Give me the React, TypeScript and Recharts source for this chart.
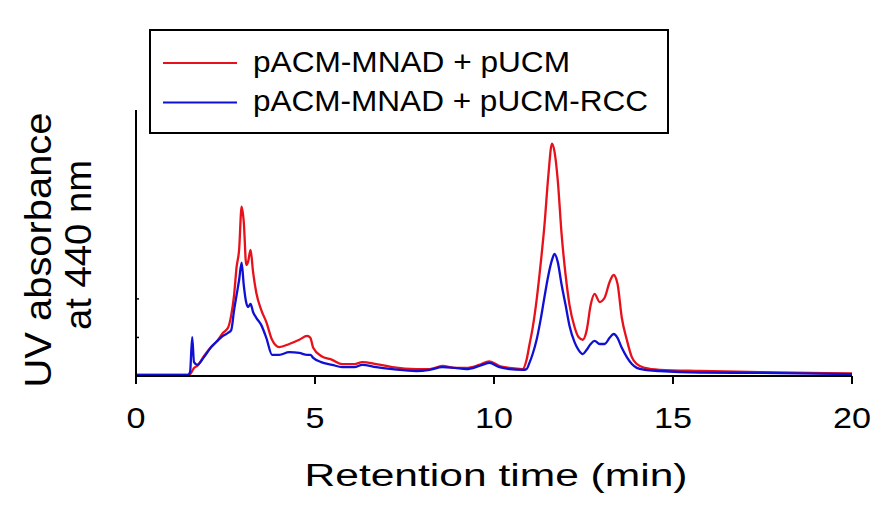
import { LineChart, Line, XAxis, YAxis } from 'recharts';

// retention time (min)
const times = [
  0, 1.45, 1.51, 1.57, 1.62, 1.71, 1.9, 2.1, 2.27, 2.43, 2.57, 2.66, 2.74, 2.81, 2.88, 2.95, 3.01, 3.08, 3.13, 3.2,
  3.27, 3.36, 3.5, 3.64, 3.8, 4.0, 4.28, 4.56, 4.78, 4.87, 4.95, 5.17, 5.48, 5.76, 6.1, 6.32, 6.71, 7.16, 7.83, 8.2,
  8.56, 8.9, 9.23, 9.59, 9.87, 10.15, 10.43, 10.8, 10.91, 10.99, 11.08, 11.19, 11.3, 11.41, 11.52, 11.62, 11.69, 11.78, 11.89, 12.0,
  12.11, 12.25, 12.36, 12.48, 12.59, 12.7, 12.81, 12.95, 13.09, 13.23, 13.34, 13.45, 13.57, 13.71, 13.85, 13.99, 14.21, 14.63, 15.75, 17.43,
  20,
];

// pACM-MNAD + pUCM
const ucm = [
  0.3, 0.3, 0.5, 1.3, 2.1, 2.6, 5.2, 7.5, 9.1, 11.2, 12.5, 15.8, 21.0, 28.3, 32.7, 43.9, 40.0, 28.8, 29.6, 32.7,
  27.0, 21.6, 17.1, 14.0, 9.4, 7.5, 8.3, 9.4, 10.4, 9.9, 7.3, 5.2, 4.2, 3.1, 3.1, 3.6, 3.1, 2.3, 1.8, 1.8,
  2.6, 2.1, 2.1, 2.9, 3.8, 2.6, 2.1, 1.8, 4.2, 8.1, 12.5, 19.7, 28.8, 39.2, 52.2, 60.3, 58.2, 50.9, 36.6, 26.2,
  18.4, 12.7, 10.1, 9.4, 11.9, 18.4, 21.3, 19.2, 20.3, 24.4, 26.2, 23.9, 15.1, 9.4, 4.9, 3.1, 2.1, 1.6, 1.3, 1.0,
  0.65,
];

// pACM-MNAD + pUCM-RCC
const ucmRcc = [
  0.3, 0.3, 1.0, 10.1, 3.6, 2.9, 4.9, 7.5, 9.1, 10.4, 11.2, 11.9, 17.1, 21.0, 24.9, 29.4, 23.6, 19.0, 17.9, 18.7,
  16.6, 15.1, 13.2, 9.9, 5.5, 5.5, 6.2, 6.0, 5.5, 5.5, 4.7, 3.6, 2.9, 2.3, 2.3, 2.9, 2.3, 1.8, 1.3, 1.6,
  2.3, 2.1, 1.8, 2.6, 3.4, 2.3, 1.8, 1.6, 1.8, 3.4, 5.7, 9.4, 14.5, 20.5, 26.2, 30.1, 31.7, 29.6, 23.6, 18.4,
  13.0, 8.8, 6.8, 5.7, 6.8, 8.3, 9.1, 8.3, 8.3, 9.9, 10.9, 9.9, 7.3, 4.9, 3.1, 2.1, 1.6, 1.3, 0.9, 0.8,
  0.5,
];

const xTicks = [0, 5, 10, 15, 20];
const yTicks = [0, 10, 20];

const seriesNames = ['pACM-MNAD + pUCM', 'pACM-MNAD + pUCM-RCC'];
const seriesColors = ['#e8101a', '#1010d4'];

const chartData = times.map((t, i) => ({ t, ucm: ucm[i], ucmRcc: ucmRcc[i] }));

const FONT = '"Liberation Sans", Arial, sans-serif';

const XTick = ({ x, payload }: { x?: number; y?: number; payload?: { value: number } }) => {
  const label = String(payload?.value ?? '');
  return (
    <text
      x={x}
      y={428}
      textAnchor="middle"
      fontFamily={FONT}
      fontSize={30}
      fill="#000"
      textLength={label.length * 19}
      lengthAdjust="spacingAndGlyphs"
    >
      {label}
    </text>
  );
};

const XLabel = () => (
  <text
    x={496}
    y={486}
    textAnchor="middle"
    fontFamily={FONT}
    fontSize={31}
    fill="#000"
    textLength={383}
    lengthAdjust="spacingAndGlyphs"
  >
    Retention time (min)
  </text>
);

const YLabel = () => (
  <g fontFamily={FONT} fill="#000">
    <text
      transform="translate(51,250) rotate(-90)"
      textAnchor="middle"
      fontSize={37}
      textLength={275}
      lengthAdjust="spacingAndGlyphs"
    >
      UV absorbance
    </text>
    <text
      transform="translate(91,245) rotate(-90)"
      textAnchor="middle"
      fontSize={37}
      textLength={170}
      lengthAdjust="spacingAndGlyphs"
    >
      at 440 nm
    </text>
  </g>
);

const LegendBox = () => (
  <svg
    width={894}
    height={512}
    style={{ position: 'absolute', left: 0, top: 0, pointerEvents: 'none' }}
  >
    <rect x={150} y={30} width={518} height={103} fill="#fff" stroke="#000" strokeWidth={2} />
    {seriesNames.map((name, i) => (
      <g key={name}>
        <line x1={163} x2={237} y1={63 + i * 39.5} y2={63 + i * 39.5} stroke={seriesColors[i]} strokeWidth={1.8} />
        <text
          x={253}
          y={72 + i * 38.5}
          fontFamily={FONT}
          fontSize={30}
          fill="#000"
          textLength={i === 0 ? 317 : 395}
          lengthAdjust="spacingAndGlyphs"
        >
          {name}
        </text>
      </g>
    ))}
  </svg>
);

const App = () => {
  return (
    <div style={{ position: 'absolute', left: 0, top: 0, width: 894, height: 512, background: '#fff' }}>
      <LineChart
        width={894}
        height={512}
        data={chartData}
        margin={{ top: 110, right: 42, bottom: 135, left: 136 }}
      >
        <XAxis
          dataKey="t"
          type="number"
          domain={[0, 20]}
          ticks={xTicks}
          height={1}
          axisLine={{ stroke: '#000', strokeWidth: 2 }}
          tickLine={{ stroke: '#000', strokeWidth: 2 }}
          tickSize={8}
          tickMargin={0}
          tick={<XTick />}
          label={<XLabel />}
        />
        <YAxis
          type="number"
          domain={[0, 69]}
          ticks={yTicks}
          width={1}
          mirror
          axisLine={{ stroke: '#000', strokeWidth: 2 }}
          tickLine={{ stroke: '#000', strokeWidth: 1.5 }}
          tickSize={3}
          tickFormatter={() => ''}
          label={<YLabel />}
        />
        <Line
          dataKey="ucm"
          type="monotone"
          stroke={seriesColors[0]}
          strokeWidth={2.3}
          dot={false}
          isAnimationActive={false}
        />
        <Line
          dataKey="ucmRcc"
          type="monotone"
          stroke={seriesColors[1]}
          strokeWidth={2.3}
          dot={false}
          isAnimationActive={false}
        />
      </LineChart>
      <LegendBox />
    </div>
  );
};

export default App;
